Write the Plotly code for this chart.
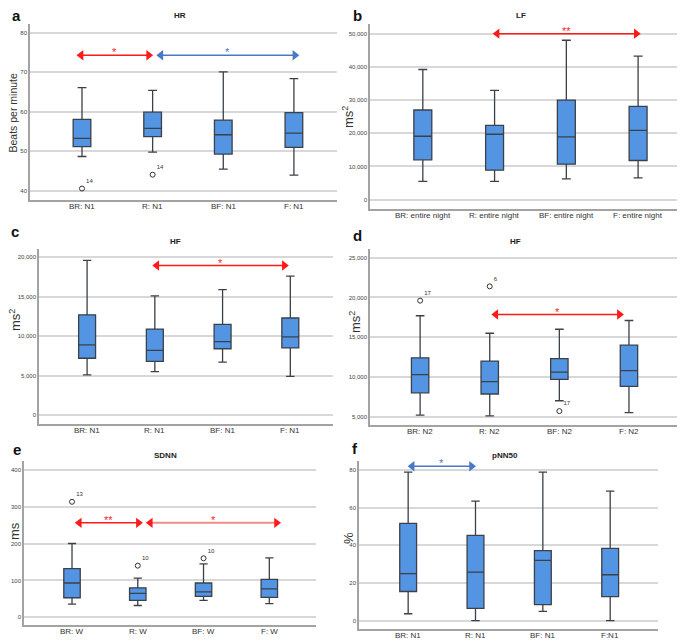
import plotly.graph_objects as go

# ---------------- data ----------------
hr_cats = ["BR: N1", "R: N1", "BF: N1", "F: N1"]
hr_low = [48.7, 49.8, 45.5, 44.0]
hr_q1 = [51.2, 53.7, 49.3, 51.0]
hr_med = [53.3, 55.8, 54.2, 54.6]
hr_q3 = [58.1, 59.9, 57.9, 59.8]
hr_high = [66.1, 65.4, 70.1, 68.4]
hr_out_x = [0, 1]
hr_out_y = [40.6, 44.1]
hr_out_lbl = ["14", "14"]

lf_cats = ["BR: entire night", "R: entire night", "BF: entire night", "F: entire night"]
lf_low = [5500, 5500, 6300, 6600]
lf_q1 = [12000, 8900, 10700, 11800]
lf_med = [19100, 19700, 18900, 20900]
lf_q3 = [27000, 22400, 30000, 28100]
lf_high = [39200, 32900, 48000, 43200]

hf1_cats = ["BR: N1", "R: N1", "BF: N1", "F: N1"]
hf1_low = [5100, 5500, 6700, 4900]
hf1_q1 = [7200, 6800, 8400, 8500]
hf1_med = [8900, 8200, 9300, 9900]
hf1_q3 = [12700, 10900, 11500, 12300]
hf1_high = [19600, 15100, 15900, 17600]

hf2_cats = ["BR: N2", "R: N2", "BF: N2", "F: N2"]
hf2_low = [5200, 5100, 7000, 5500]
hf2_q1 = [8000, 7850, 9700, 8800]
hf2_med = [10300, 9400, 10600, 10800]
hf2_q3 = [12400, 12000, 12300, 14000]
hf2_high = [17700, 15500, 16000, 17100]
hf2_out_x = [0, 1, 2]
hf2_out_y = [19600, 21400, 5700]
hf2_out_lbl = ["17", "6", "17"]

sdnn_cats = ["BR: W", "R: W", "BF: W", "F: W"]
sdnn_low = [36, 32, 46, 37]
sdnn_q1 = [53, 46, 57, 54]
sdnn_med = [93, 65, 69, 77]
sdnn_q3 = [132, 80, 93, 103]
sdnn_high = [200, 106, 145, 161]
sdnn_out_x = [0, 1, 2]
sdnn_out_y = [313, 140, 160]
sdnn_out_lbl = ["13", "10", "10"]

pnn_cats = ["BR: N1", "R: N1", "BF: N1", "F:N1"]
pnn_low = [3.7, 0, 5, 0]
pnn_q1 = [15.5, 6.6, 8.5, 12.8]
pnn_med = [25.0, 25.8, 32.0, 24.4]
pnn_q3 = [51.7, 45.3, 37.2, 38.4]
pnn_high = [78.9, 63.5, 78.9, 68.8]

# comparisons: (from category, to category, significance, colour key, level)
hr_cmp = [(0, 1, "*", "red", 74.3), (1, 3, "*", "blue", 74.3)]
lf_cmp = [(1, 3, "**", "red", 50000)]
hf1_cmp = [(1, 3, "*", "red", 18950)]
hf2_cmp = [(1, 3, "*", "red", 17850)]
sdnn_cmp = [(0, 1, "**", "red", 256), (1, 3, "*", "pink", 256)]
pnn_cmp = [(0, 1, "*", "blue", 82)]

# ---------------- styling ----------------
OFF = 8                      # page body margin of the html page
W, H = 685 - OFF, 641 - OFF  # figure size so that it fills the window
COL = {"red": "#ff1a1a", "blue": "#4a78c8", "pink": "#f28b8b"}
HEAD = {"red": "#ff1a1a", "blue": "#4a78c8", "pink": "#ff1a1a"}
BOX_FILL = "#5395e3"
BOX_LINE = "#3b4049"
GRID = "#d8d8d8"
AXLINE = "#a3a3a3"
FONT = "Liberation Sans"


def px(x):
    return (x - OFF) / W


def py(y):
    return 1 - (y - OFF) / H


panels = [
    dict(letter="a", title="HR", ytitle="Beats per minute", cats=hr_cats,
         low=hr_low, q1=hr_q1, med=hr_med, q3=hr_q3, high=hr_high,
         out=(hr_out_x, hr_out_y, hr_out_lbl), cmp=hr_cmp,
         xdom=(30, 337), ydom=(24, 200), xr=[-0.736, 3.61], yr=[37.7, 82.2],
         tickvals=[40, 50, 60, 70, 80], letterpos=(16, 15), titlepos=(180, 16),
         ytpos=(12.5, 113), ytsize=10.5, nudge=[(-0.07, 0.0), (0.06, 0.07)]),
    dict(letter="b", title="LF", ytitle="ms<sup>2</sup>", cats=lf_cats,
         low=lf_low, q1=lf_q1, med=lf_med, q3=lf_q3, high=lf_high,
         out=None, cmp=lf_cmp,
         xdom=(370, 679), ydom=(24, 209), xr=[-0.736, 3.57], yr=[-2800, 52900],
         tickvals=[0, 10000, 20000, 30000, 40000, 50000], letterpos=(357, 15), titlepos=(521, 16),
         ytpos=(348, 117), ytsize=13, nudge=[(-0.02, 0.03)]),
    dict(letter="c", title="HF", ytitle="ms<sup>2</sup>", cats=hf1_cats,
         low=hf1_low, q1=hf1_q1, med=hf1_med, q3=hf1_q3, high=hf1_high,
         out=None, cmp=hf1_cmp,
         xdom=(39, 333), ydom=(249, 424), xr=[-0.71, 3.63], yr=[-1140, 21050],
         tickvals=[0, 5000, 10000, 15000, 20000], letterpos=(15, 232), titlepos=(175, 241),
         ytpos=(15, 320), ytsize=13, nudge=[(-0.03, -0.03)]),
    dict(letter="d", title="HF", ytitle="ms<sup>2</sup>", cats=hf2_cats,
         low=hf2_low, q1=hf2_q1, med=hf2_med, q3=hf2_q3, high=hf2_high,
         out=(hf2_out_x, hf2_out_y, hf2_out_lbl), cmp=hf2_cmp,
         xdom=(370, 677), ydom=(249, 425), xr=[-0.72, 3.69], yr=[3950, 26100],
         tickvals=[5000, 10000, 15000, 20000, 25000], letterpos=(357, 236), titlepos=(515, 241),
         ytpos=(355, 322), ytsize=13, nudge=[(0.03, -0.08)]),
    dict(letter="e", title="SDNN", ytitle="ms", cats=sdnn_cats,
         low=sdnn_low, q1=sdnn_q1, med=sdnn_med, q3=sdnn_q3, high=sdnn_high,
         out=(sdnn_out_x, sdnn_out_y, sdnn_out_lbl), cmp=sdnn_cmp,
         xdom=(24, 316), ydom=(461, 625), xr=[-0.73, 3.71], yr=[-20.8, 423.5],
         tickvals=[0, 100, 200, 300, 400], letterpos=(17, 449), titlepos=(165, 455),
         ytpos=(14, 531), ytsize=13, nudge=[(0.05, 0.07), (0.13, 0.17)]),
    dict(letter="f", title="pNN50", ytitle="%", cats=pnn_cats,
         low=pnn_low, q1=pnn_q1, med=pnn_med, q3=pnn_q3, high=pnn_high,
         out=None, cmp=pnn_cmp,
         xdom=(359, 658), ydom=(461, 629), xr=[-0.73, 3.71], yr=[-4.4, 84.8],
         tickvals=[0, 20, 40, 60, 80], letterpos=(355, 448), titlepos=(505, 455),
         ytpos=(348, 538), ytsize=13, nudge=[(0.0, 0.0)]),
]

fig = go.Figure()
layout = dict(width=W, height=H, margin=dict(l=0, r=0, t=0, b=0, autoexpand=False),
              paper_bgcolor="white", plot_bgcolor="white", showlegend=False,
              boxmode="overlay", font=dict(family=FONT, color="#333"))
annotations = []

for i, p in enumerate(panels):
    n = i + 1
    xa = "x" if n == 1 else f"x{n}"
    ya = "y" if n == 1 else f"y{n}"
    xkey = "xaxis" if n == 1 else f"xaxis{n}"
    ykey = "yaxis" if n == 1 else f"yaxis{n}"
    idx = list(range(len(p["cats"])))
    pxw = (p["xdom"][1] - p["xdom"][0]) / (p["xr"][1] - p["xr"][0])  # px per category

    fig.add_trace(go.Box(
        x=idx, q1=p["q1"], median=p["med"], q3=p["q3"],
        lowerfence=p["low"], upperfence=p["high"],
        width=0.25, whiskerwidth=0.5, boxpoints=False,
        fillcolor=BOX_FILL, line=dict(color=BOX_LINE, width=1.3),
        xaxis=xa, yaxis=ya, hoverinfo="skip"))

    if p["out"] is not None:
        ox, oy, ol = p["out"]
        fig.add_trace(go.Scatter(
            x=ox, y=oy, mode="markers+text", text=ol, textposition="top right",
            textfont=dict(size=6, color="#333", family=FONT),
            marker=dict(symbol="circle-open", size=5, color="#333", line=dict(width=1)),
            xaxis=xa, yaxis=ya, cliponaxis=False, hoverinfo="skip"))

    for k, (a, b, sig, ck, lvl) in enumerate(p["cmp"]):
        na, nb = p["nudge"][k]
        x0, x1 = a + na, b + nb
        d = 4.0 / pxw
        fig.add_trace(go.Scatter(
            x=[x0 + d, x1 - d], y=[lvl, lvl], mode="lines",
            line=dict(color=COL[ck], width=2 if ck == "pink" else 1.5),
            xaxis=xa, yaxis=ya, cliponaxis=False, hoverinfo="skip"))
        fig.add_trace(go.Scatter(
            x=[x0 + d, x1 - d], y=[lvl, lvl], mode="markers",
            marker=dict(symbol=["triangle-left", "triangle-right"], size=9, color=HEAD[ck],
                        line=dict(width=0)),
            xaxis=xa, yaxis=ya, cliponaxis=False, hoverinfo="skip"))
        annotations.append(dict(
            x=(x0 + x1) / 2, y=lvl, xref=xa, yref=ya, text=sig, showarrow=False,
            yshift=3, yanchor="middle", font=dict(size=11, color=HEAD[ck], family=FONT)))

    layout[xkey] = dict(domain=[px(p["xdom"][0]), px(p["xdom"][1])], range=p["xr"],
                        anchor=ya, tickvals=idx, showticklabels=False, showgrid=False,
                        zeroline=False, showline=True, linecolor=AXLINE, linewidth=1.5,
                        ticks="")
    layout[ykey] = dict(domain=[py(p["ydom"][1]), py(p["ydom"][0])], range=p["yr"],
                        anchor=xa, tickvals=p["tickvals"], tickformat=",d", showgrid=True,
                        gridcolor=GRID, gridwidth=1.5, zeroline=False, showline=True,
                        linecolor=AXLINE, linewidth=1.5, ticks="",
                        tickfont=dict(size=6, color="#444", family=FONT))

    # category labels just under the x axis
    for j, c in enumerate(p["cats"]):
        annotations.append(dict(x=j, y=py(p["ydom"][1] + 6.5), xref=xa, yref="paper",
                                text=c, showarrow=False, xanchor="center", yanchor="middle",
                                font=dict(size=8, color="#333", family=FONT)))

    lx, ly = p["letterpos"]
    annotations.append(dict(x=px(lx), y=py(ly), xref="paper", yref="paper",
                            text=f"<b>{p['letter']}</b>", showarrow=False,
                            xanchor="center", yanchor="middle",
                            font=dict(size=15, color="#111", family=FONT)))
    tx, ty = p["titlepos"]
    annotations.append(dict(x=px(tx), y=py(ty), xref="paper", yref="paper",
                            text=f"<b>{p['title']}</b>", showarrow=False,
                            xanchor="center", yanchor="middle",
                            font=dict(size=8, color="#222", family=FONT)))
    yx, yy = p["ytpos"]
    annotations.append(dict(x=px(yx), y=py(yy), xref="paper", yref="paper",
                            text=p["ytitle"], showarrow=False, textangle=-90,
                            xanchor="center", yanchor="middle",
                            font=dict(size=p["ytsize"], color="#333", family=FONT)))

layout["annotations"] = annotations
fig.update_layout(**layout)
fig.write_html("out.html")
